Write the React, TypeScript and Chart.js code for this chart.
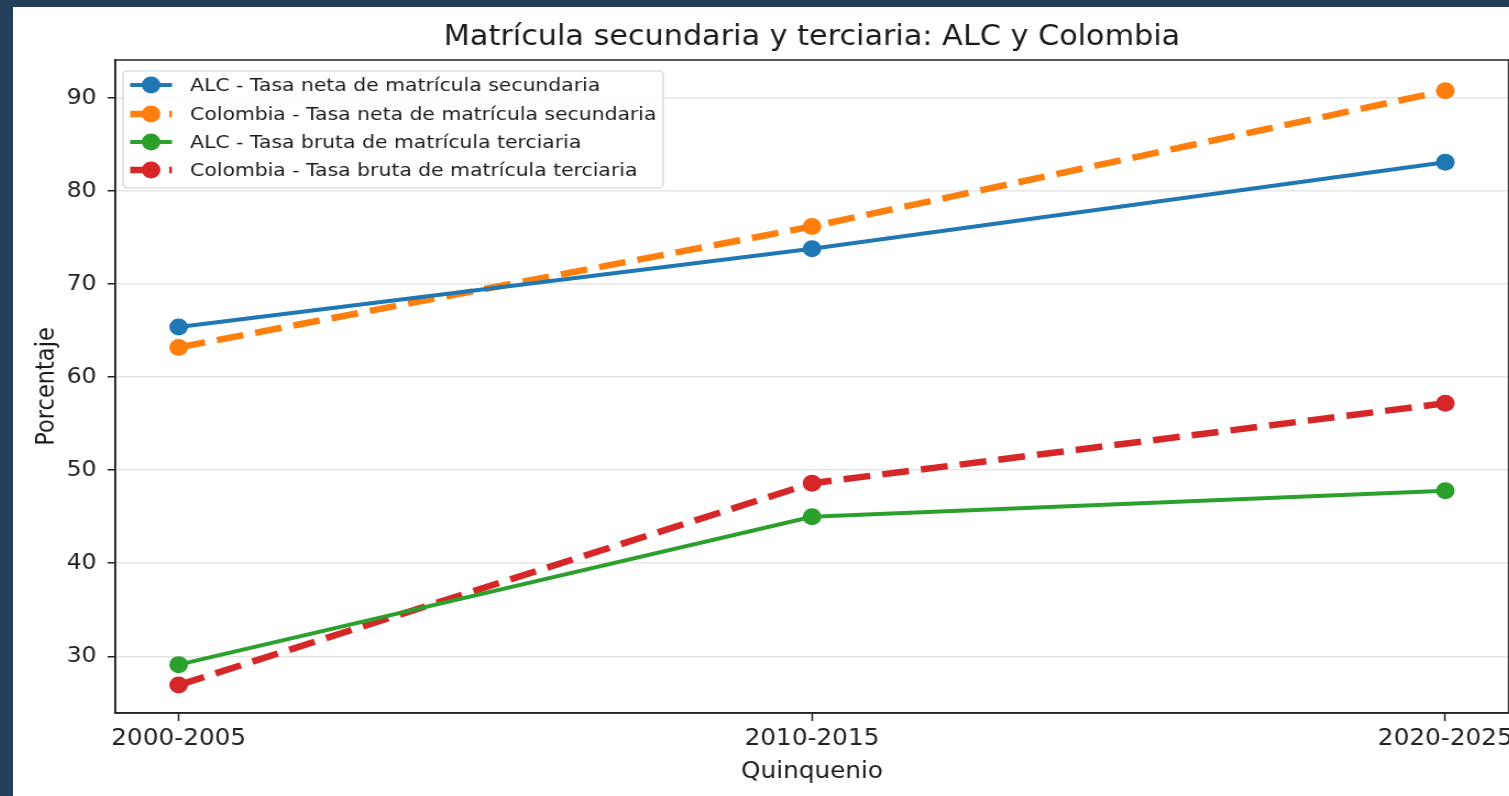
import React, { useEffect, useRef } from 'react';
import { Chart, registerables } from 'chart.js';

Chart.register(...registerables);

// ---- Data ----
const xLabels = ['2000-2005', '2010-2015', '2020-2025'];
const alcSecundaria = [65.4, 73.8, 83.1];
const colSecundaria = [63.2, 76.2, 90.8];
const alcTerciaria = [29.1, 45.0, 47.8];
const colTerciaria = [26.9, 48.6, 57.2];
const yTicks = [30, 40, 50, 60, 70, 80, 90];
const seriesLabels = [
  'ALC - Tasa neta de matrícula secundaria',
  'Colombia - Tasa neta de matrícula secundaria',
  'ALC - Tasa bruta de matrícula terciaria',
  'Colombia - Tasa bruta de matrícula terciaria',
];
const titleText = 'Matrícula secundaria y terciaria: ALC y Colombia';
const xTitle = 'Quinquenio';
const yTitle = 'Porcentaje';

const FAMILY = '"DejaVu Sans", Verdana, sans-serif';
// The reference figure is stretched horizontally; draw narrower and stretch with CSS.
const SX = 1.1;
const CW = 1368; // internal canvas width
const CH = 789;

export default function App() {
  const ref = useRef<HTMLCanvasElement>(null);

  useEffect(() => {
    document.body.style.margin = '0';
    const canvas = ref.current!;
    const styles = [
      { color: '#1f77b4', width: 4, dash: [] as number[] },
      { color: '#ff7f0e', width: 6.5, dash: [24.5, 11] },
      { color: '#2ca02c', width: 4, dash: [] as number[] },
      { color: '#d62728', width: 6.5, dash: [24.5, 11] },
    ];
    const values = [alcSecundaria, colSecundaria, alcTerciaria, colTerciaria];

    const overlay = {
      id: 'overlay',
      afterDraw(chart: any) {
        const ctx = chart.ctx as CanvasRenderingContext2D;
        const a = chart.chartArea;
        ctx.save();
        // frame
        ctx.strokeStyle = '#222';
        ctx.lineWidth = 1.5;
        ctx.setLineDash([]);
        ctx.strokeRect(a.left, a.top, a.right - a.left, a.bottom - a.top);
        // title
        ctx.fillStyle = '#1a1a1a';
        ctx.textAlign = 'center';
        ctx.textBaseline = 'middle';
        ctx.font = `27.5px ${FAMILY}`;
        ctx.fillText(titleText, (a.left + a.right) / 2, 31);
        // axis titles
        ctx.font = `22.5px ${FAMILY}`;
        ctx.fillText(xTitle, (a.left + a.right) / 2, 765);
        ctx.save();
        ctx.translate(31.5, (a.top + a.bottom) / 2);
        ctx.rotate(-Math.PI / 2);
        ctx.fillText(yTitle, 0, 0);
        ctx.restore();
        // legend
        const bx = 100, by = 64, bw = 491, bh = 117, r = 4;
        ctx.beginPath();
        ctx.moveTo(bx + r, by);
        ctx.arcTo(bx + bw, by, bx + bw, by + bh, r);
        ctx.arcTo(bx + bw, by + bh, bx, by + bh, r);
        ctx.arcTo(bx, by + bh, bx, by, r);
        ctx.arcTo(bx, by, bx + bw, by, r);
        ctx.closePath();
        ctx.fillStyle = 'rgba(255,255,255,0.8)';
        ctx.fill();
        ctx.strokeStyle = '#d0d0d0';
        ctx.lineWidth = 1.2;
        ctx.stroke();
        const rows = [78, 107, 135, 163];
        ctx.font = `18.5px ${FAMILY}`;
        ctx.textAlign = 'left';
        ctx.textBaseline = 'middle';
        rows.forEach((ry, i) => {
          const s = styles[i];
          ctx.beginPath();
          ctx.strokeStyle = s.color;
          ctx.lineWidth = s.width;
          ctx.setLineDash(s.dash);
          ctx.moveTo(106.5, ry);
          ctx.lineTo(144.5, ry);
          ctx.stroke();
          ctx.setLineDash([]);
          ctx.beginPath();
          ctx.fillStyle = s.color;
          ctx.arc(125.5, ry, 8.5, 0, Math.PI * 2);
          ctx.fill();
          ctx.fillStyle = '#1a1a1a';
          ctx.fillText(seriesLabels[i], 161, ry + 1);
        });
        ctx.restore();
      },
    };

    const chart = new Chart(canvas, {
      type: 'line',
      data: {
        datasets: values.map((vals, i) => ({
          label: seriesLabels[i],
          data: vals.map((v, k) => ({ x: k, y: v })),
          borderColor: styles[i].color,
          backgroundColor: styles[i].color,
          borderWidth: styles[i].width,
          borderDash: styles[i].dash,
          pointRadius: 8.5,
          pointHoverRadius: 8.5,
          pointBorderWidth: 0,
          pointBackgroundColor: styles[i].color,
          tension: 0,
          fill: false,
        })),
      },
      options: {
        responsive: false,
        animation: false,
        events: [],
        layout: { padding: { left: 0, right: 0, top: 53, bottom: 0 } },
        plugins: {
          legend: { display: false },
          title: { display: false },
          tooltip: { enabled: false },
        },
        scales: {
          x: {
            type: 'linear',
            min: -0.1,
            max: 2.1,
            afterBuildTicks: (s: any) => {
              s.ticks = xLabels.map((_, i) => ({ value: i }));
            },
            afterFit: (s: any) => {
              s.height = 83;
              s.paddingLeft = 0;
              s.paddingRight = 0;
            },
            ticks: {
              callback: (v: any) => xLabels[v as number] ?? '',
              color: '#222',
              font: { family: FAMILY, size: 22.5 },
              padding: 5,
              maxRotation: 0,
              autoSkip: false,
            },
            grid: { drawOnChartArea: false, tickLength: 8, tickColor: '#222', tickWidth: 1.5 },
            border: { display: true, color: '#222', width: 1.5 },
          },
          y: {
            type: 'linear',
            min: 23.9,
            max: 94.1,
            afterBuildTicks: (s: any) => {
              s.ticks = yTicks.map((v) => ({ value: v }));
            },
            afterFit: (s: any) => {
              s.width = 93;
              s.paddingTop = 0;
              s.paddingBottom = 0;
              s.paddingLeft = 0;
              s.paddingRight = 0;
            },
            ticks: {
              color: '#222',
              font: { family: FAMILY, size: 21.5 },
              padding: 10,
            },
            grid: { color: '#e6e6e6', lineWidth: 1.5, tickLength: 7, tickColor: '#222', tickWidth: 1.5 },
            border: { display: true, color: '#222', width: 1.5 },
          },
        },
      },
      plugins: [overlay],
    } as any);
    return () => chart.destroy();
  }, []);

  return (
    <div style={{ position: 'fixed', left: 0, top: 0, width: 1509, height: 796, background: '#243e5c', overflow: 'hidden' }}>
      <div style={{ position: 'absolute', left: 13, top: 7, width: CW * SX, height: CH, background: '#ffffff' }}>
        <canvas ref={ref} width={CW} height={CH} style={{ display: 'block', width: `${CW * SX}px`, height: `${CH}px` }} />
      </div>
    </div>
  );
}
